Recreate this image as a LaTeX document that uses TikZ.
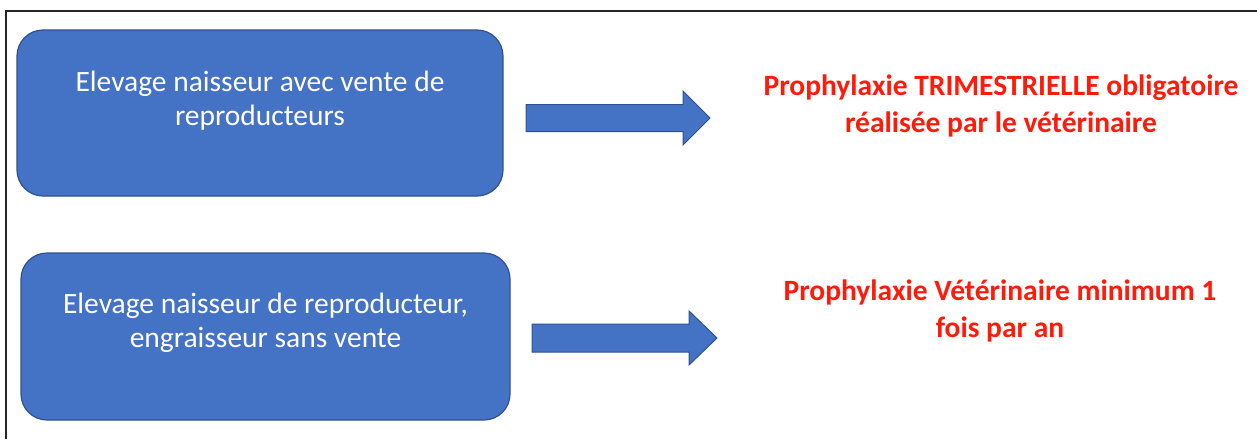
\documentclass[tikz,border=0pt]{standalone}
\usepackage{fontspec}
\setmainfont{Carlito}
\usetikzlibrary{calc}
\definecolor{boxblue}{HTML}{4472C4}
\definecolor{boxedge}{HTML}{2F528F}
\definecolor{redtxt}{HTML}{FF1A0A}
\tikzset{
  x=1pt, y=-1pt,
  bluebox/.style={draw=boxedge, line width=1.2pt, fill=boxblue, rounded corners=26pt, inner sep=0pt},
  boxtext/.style={text=white, align=center, font=\fontsize{29.5}{34}\selectfont, inner sep=0pt},
  redtext/.style={text=redtxt, align=center, font=\bfseries\fontsize{29.5}{36.5}\selectfont, inner sep=0pt},
  fatarrow/.style={draw=boxedge, line width=1pt, fill=boxblue, line join=miter},
  frameline/.style={draw=black!85, line width=1.4pt}
}
\begin{document}
\begin{tikzpicture}
\useasboundingbox (0,0) rectangle (1257,439);
\draw[frameline] (6,439) -- (6,11) -- (1257,11);

\node[bluebox, minimum width=486pt, minimum height=166pt] (b1) at (260,113) {};
\node[boxtext, anchor=base] (t1) at (260,125) {Elevage naisseur avec vente de\\reproducteurs};

\node[bluebox, minimum width=489pt, minimum height=167pt] (b2) at (265.5,336.5) {};
\node[boxtext, anchor=base] (t2) at (265.5,347) {Elevage naisseur de reproducteur,\\engraisseur sans vente};

\node[redtext, anchor=base] (r1) at (1001,132) {Prophylaxie TRIMESTRIELLE obligatoire\\réalisée par le vétérinaire};
\node[redtext, anchor=base] (r2) at (1000,337) {Prophylaxie Vétérinaire minimum 1\\fois par an};

\coordinate (a1s) at (526,118);
\coordinate (a1e) at (710,118);
\draw[fatarrow] ($(a1s)+(0,-13.5)$) -- ($(a1e)+(-27,-13.5)$) -- ($(a1e)+(-27,-27)$) -- (a1e)
  -- ($(a1e)+(-27,27)$) -- ($(a1e)+(-27,13.5)$) -- ($(a1s)+(0,13.5)$) -- cycle;

\coordinate (a2s) at (532,338);
\coordinate (a2e) at (717,338);
\draw[fatarrow] ($(a2s)+(0,-14)$) -- ($(a2e)+(-28,-14)$) -- ($(a2e)+(-28,-27)$) -- (a2e)
  -- ($(a2e)+(-28,27)$) -- ($(a2e)+(-28,14)$) -- ($(a2s)+(0,14)$) -- cycle;
\end{tikzpicture}
\end{document}
